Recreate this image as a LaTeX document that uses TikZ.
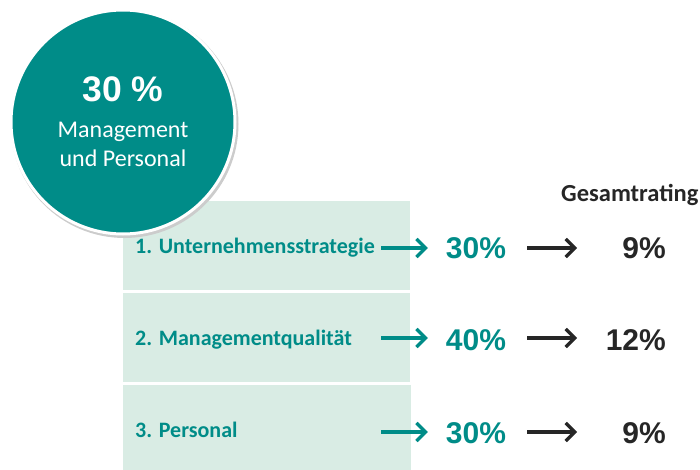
\documentclass[tikz,border=0pt]{standalone}
\usepackage{fontspec}
\setmainfont{Carlito}
\newfontfamily\arialfont{Liberation Sans}
\usetikzlibrary{arrows.meta}
\definecolor{petrol}{RGB}{0,140,136}
\definecolor{mint}{RGB}{217,236,228}
\definecolor{dunkel}{RGB}{38,38,38}
\tikzset{
  zeile/.style={fill=mint, draw=none, inner sep=0pt, outer sep=0pt, anchor=north west},
  kriterium/.style={anchor=base west, inner sep=0pt, text=petrol, font=\fontsize{22}{26}\selectfont\bfseries},
  gewicht/.style={anchor=base, inner sep=0pt, text=petrol, font=\arialfont\fontsize{30}{34}\selectfont\bfseries},
  ergebnis/.style={anchor=base east, inner sep=0pt, text=dunkel, font=\arialfont\fontsize{30}{34}\selectfont\bfseries},
  tuerkispfeil/.style={draw=petrol, line width=3.3pt, -{Straight Barb[length=9pt,width=18pt,line width=3.3pt]}},
  schwarzpfeil/.style={draw=dunkel, line width=3.3pt, -{Straight Barb[length=9pt,width=18pt,line width=3.3pt]}}
}
\begin{document}
\begin{tikzpicture}[x=1pt, y=-1pt]
\useasboundingbox (0,0) rectangle (700,470);
% Zeilen
\node[zeile, minimum width=287pt, minimum height=89pt] (box1) at (123,201) {};
\node[zeile, minimum width=287pt, minimum height=89pt] (box2) at (123,293) {};
\node[zeile, minimum width=288pt, minimum height=85pt] (box3) at (123,385) {};
% Kreis
\fill[black!20] (124.5,124) circle (114);
\node[circle, fill=petrol, draw=white, line width=3pt, minimum size=224pt] (kreis) at (123,122) {};
\node[anchor=base, inner sep=0pt, text=white, font=\arialfont\fontsize{35.5}{40}\selectfont\bfseries] (kreiszahl) at (123,102) {30 \%};
\node[anchor=base, inner sep=0pt, text=white, font=\fontsize{24}{28}\selectfont] (kreistext1) at (123,138) {Management};
\node[anchor=base, inner sep=0pt, text=white, font=\fontsize{24}{28}\selectfont] (kreistext2) at (123,167) {und Personal};
% Kopf
\node[anchor=base west, inner sep=0pt, text=dunkel, font=\fontsize{24.5}{28}\selectfont\bfseries] (kopf) at (561,201) {Gesamtrating};
% Kriterien
\node[kriterium] (krit1) at (135,253) {1. Unternehmensstrategie};
\node[kriterium] (krit2) at (135,345) {2. Managementqualität};
\node[kriterium] (krit3) at (135,437) {3. Personal};
% Gewichte
\node[gewicht] (gew1) at (476,258) {30\%};
\node[gewicht] (gew2) at (476,350) {40\%};
\node[gewicht] (gew3) at (476,443) {30\%};
% Ergebnisse
\node[ergebnis] (erg1) at (666,258) {9\%};
\node[ergebnis] (erg2) at (666,350) {12\%};
\node[ergebnis] (erg3) at (666,443) {9\%};
% Pfeile
\coordinate (start1) at (381,248);
\coordinate (start2) at (381,338);
\coordinate (start3) at (381,432);
\coordinate (ziel1) at (577,248);
\coordinate (ziel2) at (577,338);
\coordinate (ziel3) at (577,432);
\draw[tuerkispfeil, shorten >=18pt] (start1) -- (start1 -| gew1.west);
\draw[tuerkispfeil, shorten >=18pt] (start2) -- (start2 -| gew2.west);
\draw[tuerkispfeil, shorten >=18pt] (start3) -- (start3 -| gew3.west);
\draw[schwarzpfeil, shorten <=21pt] (ziel1 -| gew1.east) -- (ziel1);
\draw[schwarzpfeil, shorten <=21pt] (ziel2 -| gew2.east) -- (ziel2);
\draw[schwarzpfeil, shorten <=21pt] (ziel3 -| gew3.east) -- (ziel3);
\end{tikzpicture}
\end{document}
